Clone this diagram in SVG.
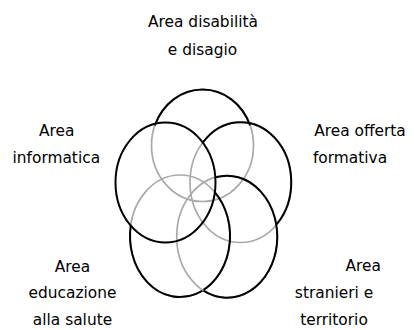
<svg xmlns="http://www.w3.org/2000/svg" width="414" height="330" viewBox="0 0 414 330">
<style>
.bg{fill:#ffffff}
.under{fill:none;stroke:#a9a9a9;stroke-width:1.7}
.over{fill:none;stroke:#000000;stroke-width:2}
.lbl{font-family:"DejaVu Sans","Liberation Sans",sans-serif;font-size:15.4px;fill:#000000;text-anchor:middle}
</style>
<rect class="bg" x="0" y="0" width="414" height="330"/>
<g id="area-disabilita">
<ellipse class="under" cx="202.5" cy="145.5" rx="51" ry="56"/>
<path class="over" d="M154.9,125.4 A51,56 0 0,1 250.1,125.4"/>
<text class="lbl" x="203" y="27.3">Area disabilità</text>
<text class="lbl" x="202.5" y="55">e disagio</text>
</g>
<g id="area-offerta-formativa">
<ellipse class="under" cx="240.5" cy="182.5" rx="50.5" ry="60"/>
<path class="over" d="M202.8,142.6 A50.5,60 0 1,1 276.8,224.2"/>
<text class="lbl" x="360" y="136">Area offerta</text>
<text class="lbl" x="350" y="163.3">formativa</text>
</g>
<g id="area-educazione-salute">
<ellipse class="under" cx="180" cy="236" rx="50" ry="61"/>
<path class="over" d="M214.7,192.1 A50,61 0 1,1 130.8,225.4"/>
<text class="lbl" x="72.5" y="271.7">Area</text>
<text class="lbl" x="72.5" y="298.3">educazione</text>
<text class="lbl" x="72.5" y="325">alla salute</text>
</g>
<g id="area-stranieri-territorio">
<ellipse class="under" cx="227" cy="236.7" rx="50.3" ry="61"/>
<path class="over" d="M215.7,177.3 A50.3,61 0 1,1 203.5,290.7"/>
<text class="lbl" x="363.3" y="270.7">Area</text>
<text class="lbl" x="334" y="298.3">stranieri e</text>
<text class="lbl" x="334" y="325">territorio</text>
</g>
<g id="area-informatica">
<ellipse class="over" cx="165.5" cy="182.5" rx="50" ry="60"/>
<text class="lbl" x="56.7" y="136">Area</text>
<text class="lbl" x="56.3" y="163.3">informatica</text>
</g>
</svg>
